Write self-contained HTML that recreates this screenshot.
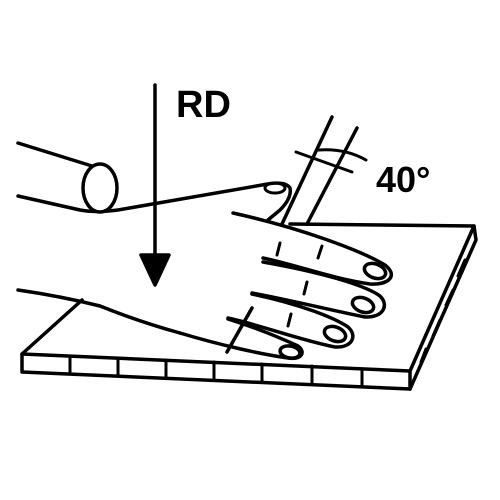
<!DOCTYPE html>
<html><head><meta charset="utf-8"><style>
html,body{margin:0;padding:0;background:#fff;}
svg{display:block;}
text{font-family:"Liberation Sans",sans-serif;font-weight:bold;fill:#000;}
</style></head><body>
<svg width="500" height="500" viewBox="0 0 500 500" fill="none" stroke="#000" stroke-width="3.5" stroke-linejoin="round" stroke-linecap="round">
  <g>
    <path d="M82,300 L22,354 L410,371 L474,226 L290,224" fill="#fff"/>
    <path d="M22,354 L22,372 L410,389 L410,371"/>
    <path d="M410,389 L476,240 L474,226"/>
    <path d="M70,356 L70,374 M118,358 L118,376 M166,360 L166,378 M214,362 L214,380 M262,364 L262,382 M312,366 L312,384 M362,369 L362,387" stroke-width="3"/>
    <path d="M421,362 L426,349 M433,336 L440,320 M446,305 L453,290 M458,276 L465,260" stroke-width="3"/>
  </g>
  <g>
    <path d="M332,117 L282,224"/>
    <path d="M357,128 L307,224"/>
    <path d="M296,152 L352,172" stroke-width="3"/>
    <path d="M318,150 Q345,148 366,160" stroke-width="3"/>
  </g>
  <g>
    <path d="M18,143 L92,166"/>
    <path d="M18,196 L80,210 Q95,213 118,210 Q200,196 262,185 Q285,180 290,188 Q292,198 280,210 L268,220"/>
    <ellipse cx="275" cy="188" rx="10" ry="5" stroke-width="3"/>
    <ellipse cx="100" cy="188" rx="17" ry="24" fill="#fff"/>
    <path d="M233,213 C300,228 360,250 385,265 C398,275 390,285 370,284 C330,278 300,266 263,258"/>
    <path d="M263,262 C320,272 365,285 380,296 C390,306 382,318 365,317 C330,310 290,300 252,293"/>
    <path d="M252,294 C300,304 335,318 348,327 C358,336 352,348 335,347 C300,340 260,325 228,318"/>
    <path d="M228,319 C260,329 285,340 298,346 C306,352 302,360 288,358 C260,354 220,345 180,333"/>
    <path d="M18,290 Q60,296 100,306 Q140,322 180,333"/>
    <path d="M252,308 L227,352"/>
    <ellipse cx="375" cy="271" rx="11" ry="7" transform="rotate(20 375 271)"/>
    <ellipse cx="363" cy="305" rx="11" ry="7" transform="rotate(20 363 305)"/>
    <ellipse cx="335" cy="334" rx="11" ry="7" transform="rotate(20 335 334)"/>
    <ellipse cx="290" cy="352" rx="10" ry="6" transform="rotate(10 290 352)"/>
    <path d="M280,243 L277,255 M322,246 L318,258 M307,282 L304,294 M291,314 L288,326" stroke-width="3"/>
  </g>
  <g>
    <path d="M155,85 L155,258"/>
    <polygon points="141,255 169,255 155,285" fill="#000"/>
  </g>
  <text x="176" y="117" font-size="38" stroke="none">RD</text>
  <text x="376" y="192" font-size="36" stroke="none">40°</text>
</svg>
</body></html>
